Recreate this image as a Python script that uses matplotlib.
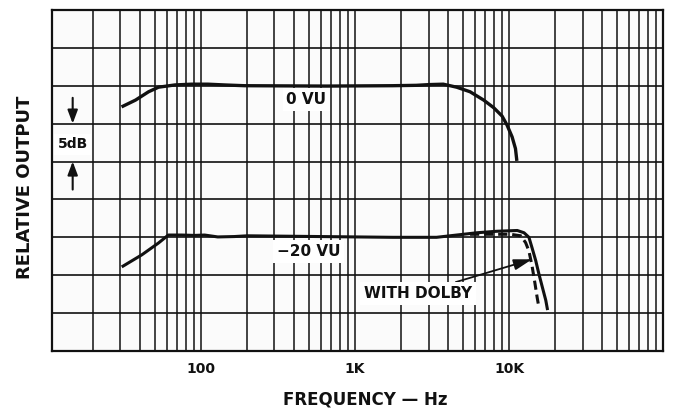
import matplotlib
matplotlib.use("Agg")
import matplotlib.pyplot as plt
from matplotlib.ticker import FixedLocator, NullFormatter

# frequency response readings, relative output in dB (5 dB per division)
f_0vu = [31.2, 37.6, 45.7, 53, 67.8, 86.7, 111, 142, 191, 650, 1760, 2500,
         3060, 3740, 4570, 5580, 6840, 7940, 9000, 9700, 10460, 11000, 11200]
db_0vu = [32.3, 33.1, 34.2, 34.8, 35.1, 35.2, 35.2, 35.1, 35.0, 34.95, 35.0,
          35.05, 35.15, 35.2, 34.8, 34.2, 33.1, 32.1, 31.0, 29.8, 28.25, 26.7,
          25.3]

f_20vu = [31.2, 41.4, 53, 61.4, 74.8, 91, 105.6, 128.5, 164.5, 200, 1760,
          3380, 4570, 6180, 8350, 11300, 12500, 13450, 14100, 14900, 15600,
          16400, 17300, 17700]
db_20vu = [11.2, 12.7, 14.25, 15.3, 15.3, 15.25, 15.3, 15.05, 15.1, 15.2,
           15.0, 15.0, 15.3, 15.6, 15.8, 15.9, 15.6, 15.0, 13.6, 11.9, 10.2,
           8.5, 6.7, 5.6]

f_dolby = [5580, 7550, 10200, 11900, 12800, 13450, 14100, 14700, 15200,
           15600]
db_dolby = [15.4, 15.4, 15.4, 15.2, 14.3, 13.2, 11.2, 9.0, 7.1, 5.8]

tick_freqs = [100, 1000, 10000]
tick_labels = ["100", "1K", "10K"]

ink = "#111111"

fig = plt.figure(figsize=(6.76, 4.12), dpi=100)
ax = fig.add_axes([0.077, 0.148, 0.904, 0.828])
ax.set_facecolor("#fbfbfb")
ax.set_xscale("log")
ax.set_xlim(10.8, 100000)
ax.set_ylim(0, 45)

# log paper grid: lines at 2..9 of every decade, 5 dB horizontal divisions
vlines = [m * 10 ** d for d in range(1, 5) for m in range(2, 11)]
ax.xaxis.set_major_locator(FixedLocator(tick_freqs))
ax.xaxis.set_minor_locator(FixedLocator(vlines))
ax.xaxis.set_minor_formatter(NullFormatter())
ax.set_xticklabels(tick_labels, fontweight="bold")
ax.set_yticks(range(0, 46, 5))
ax.set_yticklabels([])
ax.grid(True, which="both", axis="x", color=ink, lw=1.1)
ax.grid(True, axis="y", color=ink, lw=1.2)
ax.tick_params(which="both", length=0)
ax.tick_params(axis="x", pad=8, labelsize=10, colors=ink)
for s in ax.spines.values():
    s.set_color(ink)
    s.set_linewidth(1.6)

ax.plot(f_0vu, db_0vu, color=ink, lw=2.4, zorder=3)
ax.plot(f_20vu, db_20vu, color=ink, lw=2.2, zorder=3)
ax.plot(f_dolby, db_dolby, color=ink, lw=2.2, dashes=(3, 1.6), zorder=3)

box = dict(boxstyle="square,pad=0.25", fc="white", ec="none")
lbl = dict(ha="center", va="center", fontsize=11, fontweight="bold",
           color=ink, bbox=box, zorder=4)
ax.text(484, 33.2, "0 VU", **lbl)
ax.text(500, 13.1, "\u221220 VU", **lbl)
ax.annotate("WITH DOLBY", xy=(14100, 12.1), xytext=(2560, 7.6),
            arrowprops=dict(arrowstyle="-|>,head_length=1.0,head_width=0.3",
                            color=ink, lw=1.3, shrinkA=0, shrinkB=0), **lbl)

# 5 dB scale marker
ax.text(14.7, 27.3, "5dB", ha="center", va="center", fontsize=10,
        fontweight="bold", color=ink, bbox=box, zorder=4)
ax.annotate("", xy=(14.7, 30), xytext=(14.7, 33.4),
            arrowprops=dict(arrowstyle="-|>,head_length=0.8,head_width=0.3",
                            color=ink, lw=1.5, shrinkA=0, shrinkB=0))
ax.annotate("", xy=(14.7, 25), xytext=(14.7, 21.3),
            arrowprops=dict(arrowstyle="-|>,head_length=0.8,head_width=0.3",
                            color=ink, lw=1.5, shrinkA=0, shrinkB=0))

fig.text(0.037, 0.546, "RELATIVE OUTPUT", rotation=90, ha="center",
         va="center", fontsize=13, fontweight="bold", color=ink)
fig.text(0.541, 0.008, "FREQUENCY \u2014 Hz", ha="center", va="bottom",
         fontsize=12, fontweight="bold", color=ink)

fig.savefig("out.png", dpi=100, facecolor="white")
